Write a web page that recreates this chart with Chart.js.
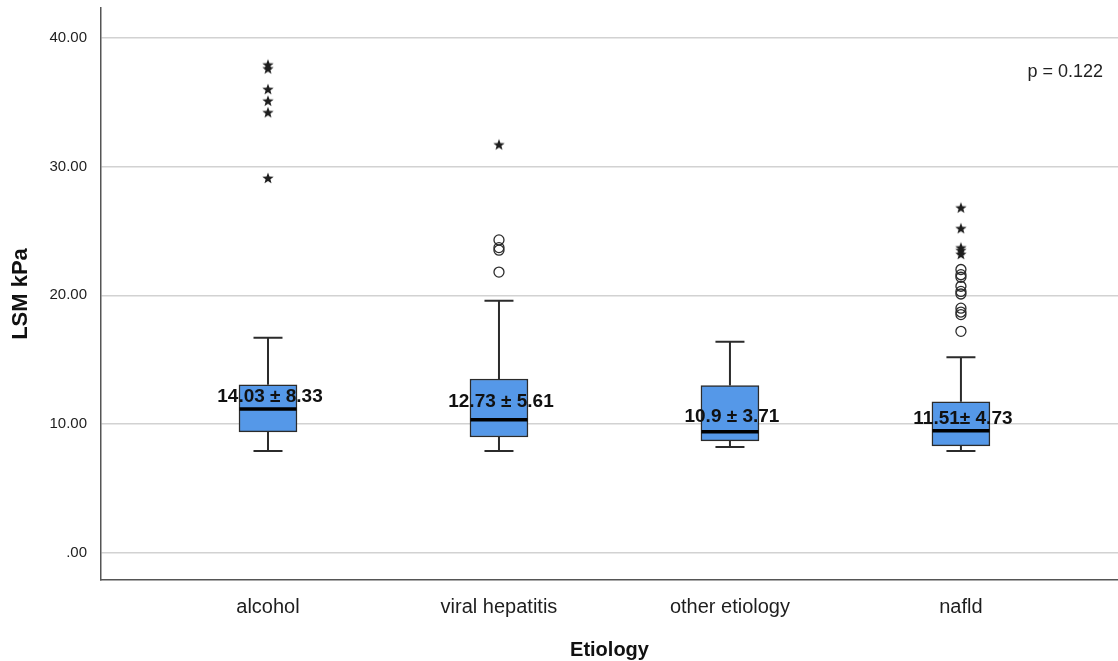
<!DOCTYPE html>
<html>
<head>
<meta charset="utf-8">
<script src="https://cdn.jsdelivr.net/npm/chart.js@4.4.1/dist/chart.umd.min.js"></script>
<style>
  html, body { margin: 0; padding: 0; background: #fff; }
  #wrap { width: 1118px; height: 661px; }
</style>
</head>
<body>
<div id="wrap"><canvas id="chart"></canvas></div>
<script>
// ── Data ──────────────────────────────────────────────────────
const CATEGORIES    = ['alcohol', 'viral hepatitis', 'other etiology', 'nafld'];
const WHISKER_LOW   = [7.92, 7.92, 8.23, 7.92];
const Q1            = [9.40, 9.00, 8.70, 8.31];
const MEDIAN        = [11.18, 10.33, 9.40, 9.48];
const Q3            = [13.05, 13.50, 13.00, 11.73];
const WHISKER_HIGH  = [16.70, 19.57, 16.40, 15.20];
const MEAN_SD_TEXT  = ['14.03 \u00b1 8.33', '12.73 \u00b1 5.61', '10.9 \u00b1 3.71', '11.51\u00b1 4.73'];
const MEAN_SD_AT    = [12.1, 11.7, 10.6, 10.45];
const CIRCLE_OUT    = [[], [24.3, 23.7, 23.5, 21.8], [], [22.0, 21.6, 21.4, 20.7, 20.3, 20.1, 19.0, 18.7, 18.5, 17.2]];
const STAR_OUT      = [[37.9, 37.6, 36.0, 35.1, 34.2, 29.1], [31.7], [], [26.8, 25.2, 23.7, 23.5, 23.2]];
const Y_TICKS       = [0, 10, 20, 30, 40];
const Y_TICK_LABELS = ['.00', '10.00', '20.00', '30.00', '40.00'];
const P_TEXT        = 'p = 0.122';

const FONT = 'Arial, "Liberation Sans", sans-serif';
const BOX_FILL = '#5598e8';
const INK = '#2b2b2b';

// filled five-point star used as point style
function makeStar(r) {
  const c = document.createElement('canvas');
  const s = Math.ceil(r * 2 + 2);
  c.width = s; c.height = s;
  const g = c.getContext('2d');
  g.fillStyle = '#1e1e1e';
  g.beginPath();
  for (let i = 0; i < 10; i++) {
    const rad = i % 2 === 0 ? r : r * 0.42;
    const a = -Math.PI / 2 + i * Math.PI / 5;
    const px = s / 2 + rad * Math.cos(a), py = s / 2 + rad * Math.sin(a) + 0.5;
    i === 0 ? g.moveTo(px, py) : g.lineTo(px, py);
  }
  g.closePath();
  g.fill();
  return c;
}
const STAR = makeStar(6);

const toPoints = (lists) => lists.flatMap((vals, i) => vals.map(v => ({ x: i + 1, y: v })));

// no auto padding for tick labels – chart area must sit exactly where the reference has it
const noPad = s => { s.paddingTop = 0; s.paddingBottom = 0; s.paddingLeft = 0; s.paddingRight = 0; };

// ── Whiskers, medians, mean ± sd labels, p text ───────────────
const boxExtras = {
  id: 'boxExtras',
  afterDatasetsDraw(chart) {
    const { ctx, scales: { x, y }, chartArea } = chart;
    ctx.save();
    CATEGORIES.forEach((_, i) => {
      const cx = x.getPixelForValue(i + 1);
      const cap = 14.5;
      ctx.strokeStyle = INK;
      ctx.lineWidth = 2;
      ctx.beginPath();
      ctx.moveTo(cx, y.getPixelForValue(Q3[i]));
      ctx.lineTo(cx, y.getPixelForValue(WHISKER_HIGH[i]));
      ctx.moveTo(cx, y.getPixelForValue(Q1[i]));
      ctx.lineTo(cx, y.getPixelForValue(WHISKER_LOW[i]));
      ctx.moveTo(cx - cap, y.getPixelForValue(WHISKER_HIGH[i]));
      ctx.lineTo(cx + cap, y.getPixelForValue(WHISKER_HIGH[i]));
      ctx.moveTo(cx - cap, y.getPixelForValue(WHISKER_LOW[i]));
      ctx.lineTo(cx + cap, y.getPixelForValue(WHISKER_LOW[i]));
      ctx.stroke();

      ctx.strokeStyle = '#000';
      ctx.lineWidth = 3.5;
      ctx.beginPath();
      ctx.moveTo(cx - 28.5, y.getPixelForValue(MEDIAN[i]));
      ctx.lineTo(cx + 28.5, y.getPixelForValue(MEDIAN[i]));
      ctx.stroke();

      ctx.fillStyle = '#111';
      ctx.font = 'bold 19px ' + FONT;
      ctx.textAlign = 'center';
      ctx.textBaseline = 'middle';
      ctx.fillText(MEAN_SD_TEXT[i], cx + 2, y.getPixelForValue(MEAN_SD_AT[i]));
    });
    ctx.font = '18px ' + FONT;
    ctx.fillStyle = '#222';
    ctx.textAlign = 'right';
    ctx.textBaseline = 'middle';
    ctx.fillText(P_TEXT, chartArea.right - 15, chartArea.top + 64);
    ctx.restore();
  },
};

new Chart(document.getElementById('chart'), {
  type: 'bar',
  data: {
    datasets: [
      {
        label: 'box',
        data: CATEGORIES.map((_, i) => ({ x: i + 1, y: [Q1[i], Q3[i]] })),
        backgroundColor: BOX_FILL,
        borderColor: INK,
        borderWidth: 1.5,
        borderSkipped: false,
        barThickness: 58,
      },
      {
        type: 'scatter',
        label: 'outliers',
        data: toPoints(CIRCLE_OUT),
        pointStyle: 'circle',
        pointRadius: 5,
        backgroundColor: 'rgba(255,255,255,0)',
        borderColor: INK,
        borderWidth: 1.3,
      },
      {
        type: 'scatter',
        label: 'extremes',
        data: toPoints(STAR_OUT),
        pointStyle: STAR,
        pointRadius: 6,
      },
    ],
  },
  options: {
    responsive: true,
    maintainAspectRatio: false,
    animation: false,
    layout: { autoPadding: false, padding: { top: 8, right: 0, left: 0, bottom: 0 } },
    plugins: { legend: { display: false }, tooltip: { enabled: false } },
    scales: {
      x: {
        type: 'linear',
        offset: false,
        min: 0.277,
        max: 4.68,
        afterBuildTicks: s => { s.ticks = CATEGORIES.map((_, i) => ({ value: i + 1 })); },
        afterFit: s => { s.height = 81; noPad(s); },
        grid: { display: false, drawTicks: false },
        border: { display: true, color: '#555', width: 1.5 },
        ticks: {
          padding: 15,
          color: '#1e1e1e',
          font: { family: FONT, size: 20 },
          maxRotation: 0,
          callback: v => CATEGORIES[v - 1],
        },
        title: {
          display: true,
          text: 'Etiology',
          color: '#111',
          font: { family: FONT, size: 20, weight: 'bold' },
          padding: { top: 0, bottom: -1 },
        },
      },
      y: {
        min: -2.1,
        max: 42.3,
        afterBuildTicks: s => { s.ticks = Y_TICKS.map(v => ({ value: v })); },
        afterFit: s => { s.width = 101; noPad(s); },
        grid: { color: '#d2d2d2', lineWidth: 1.5, drawTicks: false },
        border: { display: true, color: '#555', width: 1.5 },
        ticks: {
          padding: 14,
          color: '#1e1e1e',
          font: { family: FONT, size: 15 },
          callback: v => Y_TICK_LABELS[Y_TICKS.indexOf(v)],
        },
        title: {
          display: true,
          text: 'LSM kPa',
          color: '#111',
          font: { family: FONT, size: 22, weight: 'bold' },
          padding: { top: 8, bottom: 0 },
        },
      },
    },
  },
  plugins: [boxExtras],
});
</script>
</body>
</html>
